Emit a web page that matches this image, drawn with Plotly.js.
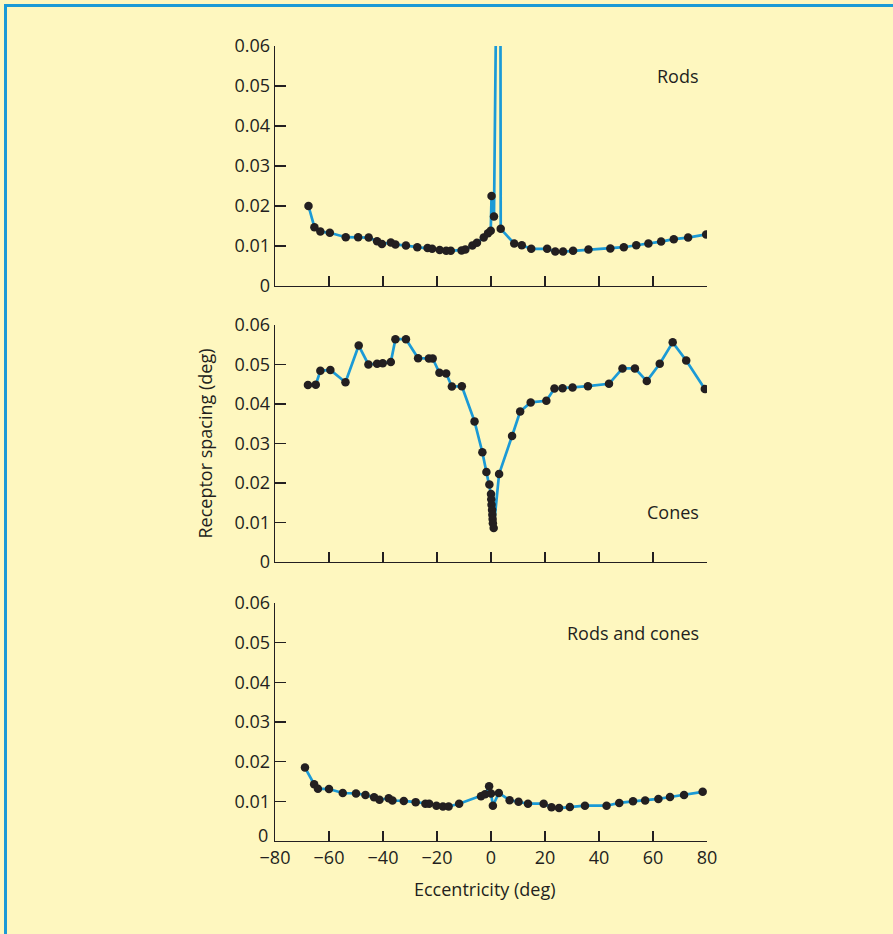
<!DOCTYPE html>
<html>
<head>
<meta charset="utf-8">
<script src="https://cdn.plot.ly/plotly-3.0.1.min.js"></script>
<style>
  html, body { margin: 0; padding: 0; background: #FEF7BF; }
  #wrap { position: relative; width: 893px; height: 934px; overflow: hidden; }
  #chart { width: 893px; height: 934px; }
  #frame { position: absolute; left: 4px; top: 4px; width: 900px; height: 940px;
           border-left: 3px solid #1B9AD6; border-top: 3px solid #1B9AD6; pointer-events: none; }
</style>
</head>
<body>
<div id="wrap">
  <div id="chart"></div>
  <div id="frame"></div>
</div>
<script>
// ---------- Data ----------
// Rods (spike values at the optic disc go off-scale)
const rodsX = [-67.6, -65.4, -63.2, -59.7, -53.8, -49.2, -45.3, -42.2, -40.4, -37.1, -35.4, -31.5, -27.3, -23.5, -21.8, -19.0, -16.6, -14.9, -10.9, -9.5, -6.9, -5.2, -2.7, -1.1, -0.1, 0.2, 1.1, 1.9, 3.5, 3.6, 8.6, 11.4, 14.9, 20.8, 23.8, 26.7, 30.4, 36.1, 44.2, 49.2, 53.8, 58.3, 63.0, 67.7, 73.0, 79.7];
const rodsY = [0.0200, 0.0147, 0.0136, 0.0133, 0.0122, 0.0122, 0.0121, 0.0112, 0.0105, 0.0109, 0.0104, 0.0101, 0.0097, 0.0095, 0.0093, 0.0090, 0.0088, 0.0088, 0.0089, 0.0091, 0.0101, 0.0108, 0.0121, 0.0132, 0.0138, 0.0225, 0.0174, 0.0700, 0.0700, 0.0143, 0.0106, 0.0102, 0.0093, 0.0093, 0.0086, 0.0086, 0.0088, 0.0091, 0.0094, 0.0097, 0.0102, 0.0106, 0.0111, 0.0117, 0.0121, 0.0129];

// Cones
const conesX = [-67.8, -64.9, -63.2, -59.5, -53.9, -49.0, -45.4, -42.2, -40.1, -37.1, -35.4, -31.5, -27.0, -23.0, -21.6, -19.1, -16.6, -14.5, -10.8, -6.1, -3.2, -1.7, -0.6, 0.0, 0.1, 0.2, 0.4, 0.5, 0.6, 0.7, 1.0, 3.0, 7.8, 10.8, 14.7, 20.5, 23.5, 26.5, 30.2, 35.9, 43.7, 48.7, 53.3, 57.7, 62.5, 67.3, 72.3, 79.2];
const conesY = [0.0448, 0.0449, 0.0484, 0.0486, 0.0455, 0.0548, 0.0500, 0.0502, 0.0503, 0.0506, 0.0564, 0.0564, 0.0516, 0.0515, 0.0515, 0.0479, 0.0477, 0.0444, 0.0445, 0.0356, 0.0278, 0.0228, 0.0196, 0.0172, 0.0159, 0.0145, 0.0132, 0.0120, 0.0109, 0.0098, 0.0086, 0.0223, 0.0319, 0.0381, 0.0404, 0.0408, 0.0439, 0.0440, 0.0442, 0.0445, 0.0451, 0.0490, 0.0490, 0.0458, 0.0502, 0.0556, 0.0510, 0.0438];

// Rods and cones
const bothX = [-68.9, -65.5, -64.1, -60.0, -54.9, -50.0, -46.5, -43.3, -41.3, -37.9, -36.5, -32.3, -27.9, -24.3, -22.9, -20.2, -17.8, -15.7, -11.8, -3.7, -2.2, -0.7, 0.0, 0.7, 2.9, 6.9, 10.2, 13.7, 19.5, 22.4, 25.2, 29.2, 34.8, 42.8, 47.5, 52.6, 57.1, 62.0, 66.3, 71.5, 78.4];
const bothY = [0.0185, 0.0143, 0.0132, 0.0131, 0.0121, 0.0120, 0.0116, 0.0110, 0.0104, 0.0108, 0.0102, 0.0101, 0.0098, 0.0094, 0.0094, 0.0089, 0.0087, 0.0087, 0.0094, 0.0113, 0.0118, 0.0138, 0.0120, 0.0089, 0.0121, 0.0103, 0.0099, 0.0094, 0.0094, 0.0085, 0.0083, 0.0086, 0.0089, 0.0089, 0.0096, 0.0100, 0.0102, 0.0106, 0.0111, 0.0116, 0.0124];

// Ticks and labels
const yTickVals = [0, 0.01, 0.02, 0.03, 0.04, 0.05, 0.06];
const yTickText = ['0', '0.01', '0.02', '0.03', '0.04', '0.05', '0.06'];
const yTickTextBottom = ['', '0.01', '0.02', '0.03', '0.04', '0.05', '0.06'];
const xTickVals = [-80, -60, -40, -20, 0, 20, 40, 60, 80];
const panelLabels = ['Rods', 'Cones', 'Rods and cones'];
const xTitle = 'Eccentricity (deg)';
const yTitle = 'Receptor spacing (deg)';

// ---------- Styling ----------
const ink = '#231F20';
const lineBlue = '#1B9AD6';
const bg = '#FEF7BF';
const font = { family: 'Open Sans, Noto Sans, sans-serif', size: 18, color: ink };

function trace(x, y, ax) {
  return {
    x: x, y: y, xaxis: 'x' + ax, yaxis: 'y' + ax,
    type: 'scatter', mode: 'lines+markers',
    line: { color: lineBlue, width: 2.7 },
    marker: { color: ink, size: 8.5 },
    hoverinfo: 'x+y', showlegend: false, cliponaxis: true
  };
}

function xAxis(anchor, showLabels) {
  return {
    anchor: anchor, range: [-80, 80], tickmode: 'array', tickvals: xTickVals,
    ticks: 'inside', ticklen: 10, tickwidth: 1.4, tickcolor: ink,
    showline: true, linecolor: ink, linewidth: 1.4, mirror: false,
    showgrid: false, zeroline: false, showticklabels: showLabels,
    tickfont: font, fixedrange: true
  };
}

function yAxis(anchor, domain, text) {
  return {
    anchor: anchor, domain: domain, range: [0, 0.06],
    tickmode: 'array', tickvals: yTickVals, ticktext: text,
    ticks: 'inside', ticklen: 11, tickwidth: 1.4, tickcolor: ink,
    showline: true, linecolor: ink, linewidth: 1.4,
    showgrid: false, zeroline: false, tickfont: font, fixedrange: true
  };
}

const data = [
  trace(rodsX, rodsY, ''),
  trace(conesX, conesY, '2'),
  trace(bothX, bothY, '3')
];

const y2 = yAxis('x2', [0.3509, 0.6491], yTickText);
y2.title = { text: yTitle, font: font, standoff: 17 };

const layout = {
  width: 893, height: 934,
  margin: { l: 275, r: 186, t: 46, b: 93 },
  paper_bgcolor: bg, plot_bgcolor: bg,
  font: font,
  xaxis: xAxis('y', false),
  yaxis: yAxis('x', [0.6981, 1.0], yTickText),
  xaxis2: xAxis('y2', false),
  yaxis2: y2,
  xaxis3: xAxis('y3', true),
  yaxis3: yAxis('x3', [0, 0.2994], yTickTextBottom),
  annotations: [
    { text: panelLabels[0], xref: 'x', yref: 'y', x: 77.6, y: 0.0526, xanchor: 'right', yanchor: 'middle', showarrow: false, font: font },
    { text: panelLabels[1], xref: 'x2', yref: 'y2', x: 77.6, y: 0.0127, xanchor: 'right', yanchor: 'middle', showarrow: false, font: font },
    { text: panelLabels[2], xref: 'x3', yref: 'y3', x: 77.6, y: 0.0525, xanchor: 'right', yanchor: 'middle', showarrow: false, font: font },
    // the bottom panel's "0" label sits slightly above its tick in the reference
    { text: yTickText[0], xref: 'x3', yref: 'y3', x: -80, y: 0, xanchor: 'right', yanchor: 'middle', xshift: -5, yshift: 6, showarrow: false, font: font },
    // x-axis title, slightly left of the plot centre as in the reference
    { text: xTitle, xref: 'x3', yref: 'y3', x: 0, y: 0, xanchor: 'center', yanchor: 'middle', xshift: -6, yshift: -48, showarrow: false, font: font }
  ]
};

Plotly.newPlot('chart', data, layout, { displayModeBar: false, staticPlot: true });
</script>
</body>
</html>
